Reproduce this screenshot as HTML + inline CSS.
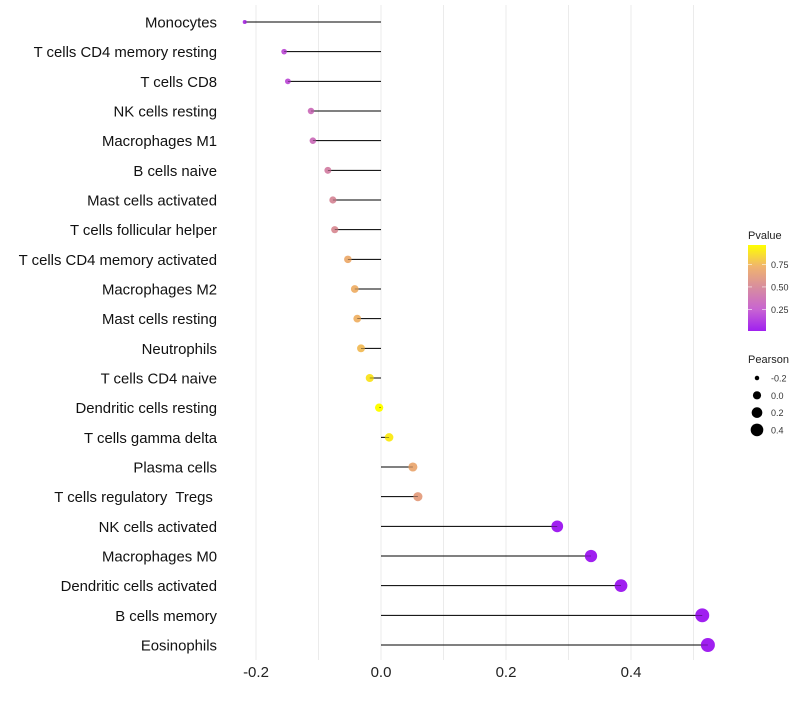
<!DOCTYPE html>
<html><head><meta charset="utf-8"><style>
body{margin:0;background:#fff;width:800px;height:700px;overflow:hidden}
svg text{font-family:"Liberation Sans",sans-serif;white-space:pre}
</style></head><body>
<svg id="chart" width="800" height="700"></svg>
<script>
const categories=["Monocytes","T cells CD4 memory resting","T cells CD8","NK cells resting","Macrophages M1","B cells naive","Mast cells activated","T cells follicular helper","T cells CD4 memory activated","Macrophages M2","Mast cells resting","Neutrophils","T cells CD4 naive","Dendritic cells resting","T cells gamma delta","Plasma cells","T cells regulatory  Tregs ","NK cells activated","Macrophages M0","Dendritic cells activated","B cells memory","Eosinophils"];
const pearson=[-0.218,-0.155,-0.149,-0.112,-0.109,-0.085,-0.077,-0.074,-0.053,-0.042,-0.038,-0.032,-0.018,-0.003,0.013,0.051,0.059,0.282,0.336,0.384,0.514,0.523];
const pvalues=[0.1,0.2,0.2,0.35,0.35,0.45,0.5,0.52,0.7,0.72,0.73,0.76,0.88,0.98,0.9,0.68,0.62,0.01,0.01,0.01,0.01,0.01];
const xTicks=[-0.2,0,0.2,0.4];
const xTickLabels=["-0.2","0.0","0.2","0.4"];
const gridVals=[-0.2,-0.1,0,0.1,0.2,0.3,0.4,0.5];
const pLegendVals=[0.25,0.5,0.75];
const pLegendLabels=["0.25","0.50","0.75"];
const sizeLegendVals=[-0.2,0,0.2,0.4];
const sizeLegendLabels=["-0.2","0.0","0.2","0.4"];

const NS="http://www.w3.org/2000/svg";
const svg=document.getElementById('chart');
function mk(t,a,p){const e=document.createElementNS(NS,t);for(const k in a)e.setAttribute(k,a[k]);(p||svg).appendChild(e);return e;}
const x=v=>381+v*625;
const n=categories.length;
const y=i=>22+i*(645-22)/(n-1);
const rad=v=>Math.sqrt(Math.max(2,4+60.8*(v+0.22)));
const stops=[[0,[160,32,240]],[0.25,[200,100,210]],[0.5,[215,140,160]],[0.75,[240,180,110]],[1,[255,255,0]]];
const pmin=0.01,pmax=0.966;
function col(p){let t=(p-pmin)/(pmax-pmin);t=Math.max(0,Math.min(1,t));
 for(let i=1;i<stops.length;i++){if(t<=stops[i][0]){const a=stops[i-1],b=stops[i];const f=(t-a[0])/(b[0]-a[0]);
 return 'rgb('+a[1].map((c,j)=>Math.round(c+(b[1][j]-c)*f)).join(',')+')';}}return 'rgb(255,255,0)';}

const grid=mk('g',{});


gridVals.forEach(v=>{const l=mk('line',{x1:x(v),x2:x(v),y1:5,y2:660,stroke:'#ebebeb','stroke-width':1},grid);
 
 });
const ax=mk('g',{});


xTicks.forEach((v,i)=>{const t=mk('text',{x:x(v),y:677,'text-anchor':'middle','font-size':15,fill:'#222'},ax);t.textContent=xTickLabels[i];
 
 });
categories.forEach((c,i)=>{
 const t=mk('text',{x:217,y:y(i)+5.5,'text-anchor':'end','font-size':14.9,fill:'#111'});t.textContent=c;
 
 
 const l=mk('line',{x1:x(0),x2:x(pearson[i]),y1:y(i),y2:y(i),stroke:'#000','stroke-width':1});
 
 
 const d=mk('circle',{cx:x(pearson[i]),cy:y(i),r:rad(pearson[i]),fill:col(pvalues[i])});
 
 
 const l2=mk('line',{x1:x(0),x2:x(pearson[i]),y1:y(i),y2:y(i),stroke:'#000','stroke-width':0.6,opacity:0.6});
 
 
});
const lg=mk('g',{});


const defs=mk('defs',{},lg);
const gr=mk('linearGradient',{id:'pg',x1:0,y1:1,x2:0,y2:0},defs);
stops.forEach(s=>mk('stop',{offset:s[0],'stop-color':'rgb('+s[1].join(',')+')'},gr));
const tt=mk('text',{x:748,y:239,'font-size':11,fill:'#222'},lg);tt.textContent='Pvalue';
const cb=mk('rect',{x:748,y:245,width:18,height:86,fill:'url(#pg)'},lg);


const cy=p=>331-(p-pmin)/(pmax-pmin)*86;
pLegendVals.forEach((p,i)=>{mk('line',{x1:748,x2:752,y1:cy(p),y2:cy(p),stroke:'#fff','stroke-width':0.8,opacity:0.7},lg);mk('line',{x1:762,x2:766,y1:cy(p),y2:cy(p),stroke:'#fff','stroke-width':0.8,opacity:0.7},lg);
 const t=mk('text',{x:771,y:cy(p)+3.5,'font-size':9,fill:'#333'},lg);t.textContent=pLegendLabels[i];
 
 });
const sg=mk('g',{});


const st=mk('text',{x:748,y:363,'font-size':11,fill:'#222'},sg);st.textContent='Pearson';
sizeLegendVals.forEach((v,i)=>{const yy=378+i*17.3;
 const c=mk('circle',{cx:757,cy:yy,r:rad(v)*0.98,fill:'#000'},sg);
 
 
 const t=mk('text',{x:771,y:yy+3.5,'font-size':9,fill:'#333'},sg);t.textContent=sizeLegendLabels[i];
 
 });
</script>
</body></html>
